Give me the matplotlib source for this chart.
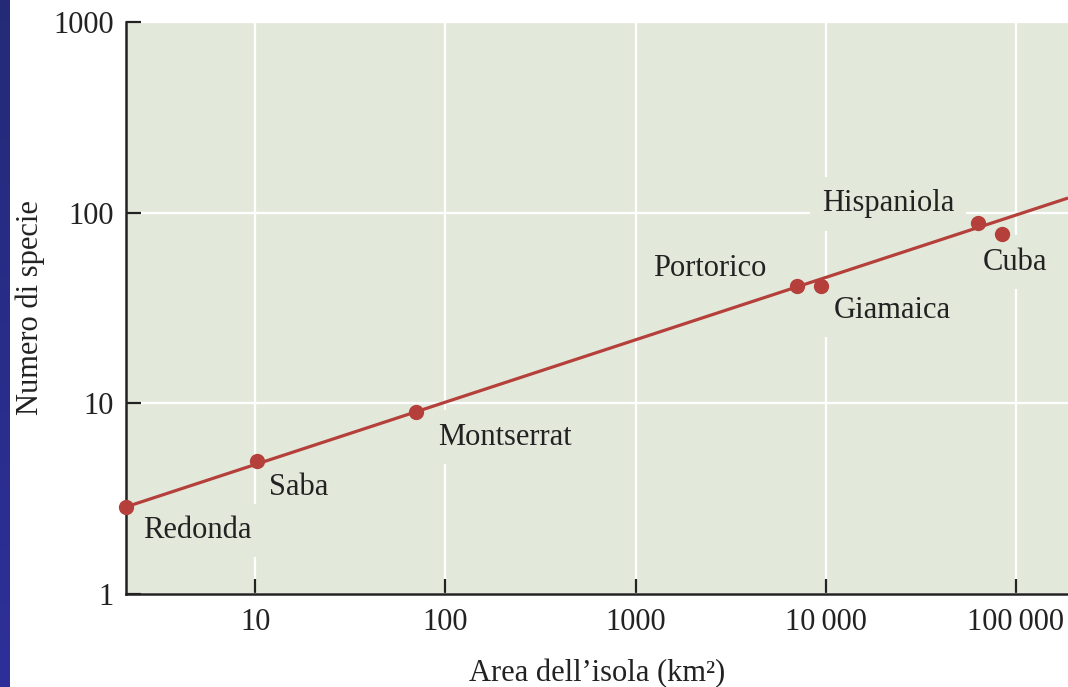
import numpy as np
import matplotlib
matplotlib.use("Agg")
import matplotlib.pyplot as plt
from matplotlib.ticker import FixedLocator, FixedFormatter, NullLocator

# Island area (km²) versus number of species
islands = ["Redonda", "Saba", "Montserrat", "Portorico", "Giamaica", "Hispaniola", "Cuba"]
area_km2 = [2.1, 10.2, 70, 7100, 9500, 63000, 85000]
species = [2.86, 5.0, 9.0, 41.2, 41.0, 88, 77]

# Species–area power law S = C * A^Z
C_FIT = 2.25
Z_FIT = 0.327

x_ticks = [10, 100, 1000, 10000, 100000]
x_tick_labels = ["10", "100", "1000", "10\u2009000", "100\u2009000"]
y_ticks = [1, 10, 100, 1000]
y_tick_labels = ["1", "10", "100", "1000"]

# label offsets (points) and horizontal alignment relative to each point
label_offsets = {
    "Redonda": (12, -17, "left"),
    "Saba": (9, -19, "left"),
    "Montserrat": (16, -18, "left"),
    "Portorico": (-22, 13, "right"),
    "Giamaica": (9, -17, "left"),
    "Hispaniola": (-17, 14, "right"),
    "Cuba": (-14, -20, "left"),
}

BG = "#e2e9da"
RED = "#b5403b"
INK = "#222222"
FONT = ["Liberation Serif", "DejaVu Serif"]
FS = 22

plt.rcParams["font.family"] = FONT

fig = plt.figure(figsize=(10.68, 6.87), dpi=100)

# blue band along the left edge
band = fig.add_axes([0, 0, 10 / 1068, 1])
grad = np.linspace(0, 1, 256).reshape(-1, 1)
band.imshow(grad, aspect="auto", extent=[0, 1, 0, 1],
            cmap=matplotlib.colors.LinearSegmentedColormap.from_list(
                "band", ["#2f2f9a", "#252a78"]), origin="lower")
band.set_axis_off()

ax = fig.add_axes([126 / 1068, 93 / 687, 1 - 126 / 1068, 572 / 687])
ax.set_facecolor(BG)
ax.set_xscale("log")
ax.set_yscale("log")
ax.set_xlim(2.09, 188000)
ax.set_ylim(1, 1000)

ax.set_axisbelow(True)
ax.grid(True, which="major", color="white", linewidth=1.6)

ax.xaxis.set_major_locator(FixedLocator(x_ticks))
ax.xaxis.set_major_formatter(FixedFormatter(x_tick_labels))
ax.yaxis.set_major_locator(FixedLocator(y_ticks))
ax.yaxis.set_major_formatter(FixedFormatter(y_tick_labels))
ax.xaxis.set_minor_locator(NullLocator())
ax.yaxis.set_minor_locator(NullLocator())

ax.tick_params(axis="both", direction="in", length=11, width=1.6,
               color=INK, labelcolor=INK, labelsize=FS)
ax.tick_params(axis="x", pad=10)
ax.tick_params(axis="y", pad=9)

for side in ("top", "right"):
    ax.spines[side].set_visible(False)
for side in ("left", "bottom"):
    ax.spines[side].set_color(INK)
    ax.spines[side].set_linewidth(1.8)

# fitted line across the full x range
xs = np.logspace(np.log10(2.09), np.log10(188000), 100)
ax.plot(xs, C_FIT * xs ** Z_FIT, color=RED, linewidth=2.3, zorder=4,
        solid_capstyle="butt")
ax.plot(area_km2, species, "o", color=RED, markersize=10, zorder=5,
        clip_on=False)

for name, a, s in zip(islands, area_km2, species):
    dx, dy, ha = label_offsets[name]
    ax.annotate(name, (a, s), xytext=(dx, dy), textcoords="offset points",
                ha=ha, va="center", fontsize=FS, color=INK, zorder=3,
                bbox=dict(boxstyle="square,pad=0.4", facecolor=BG,
                          edgecolor="none"))

ax.set_xlabel("Area dell\u2019isola (km\u00b2)", fontsize=FS, color=INK, labelpad=16)
ax.set_ylabel("Numero di specie", fontsize=FS, color=INK, labelpad=6)

fig.savefig("out.png", dpi=100, facecolor="white")
